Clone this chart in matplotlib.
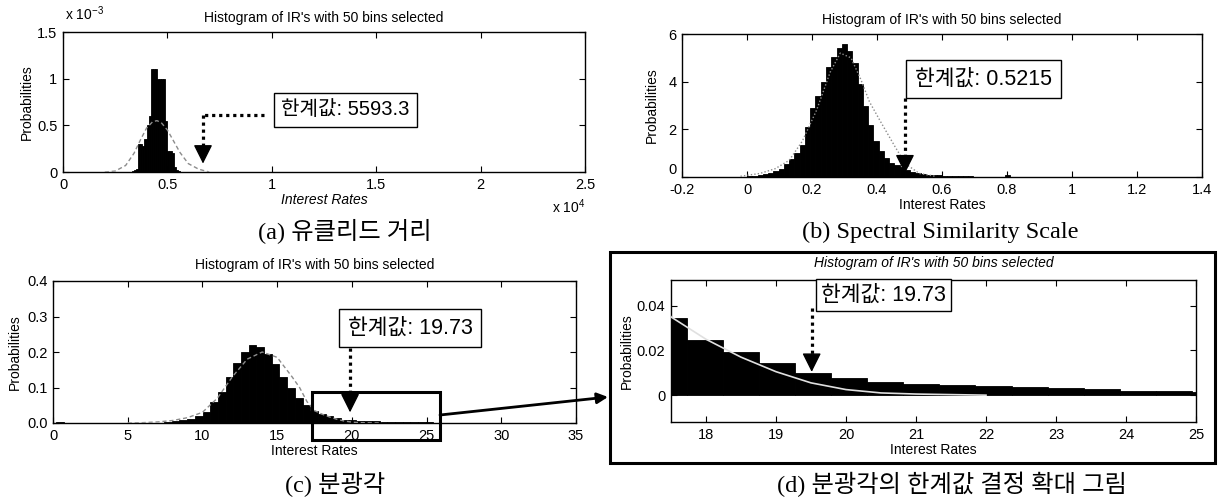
import matplotlib.pyplot as plt
import numpy as np
from matplotlib.patches import Rectangle, FancyArrowPatch

plt.rcParams['font.family'] = ['Liberation Sans', 'Noto Sans CJK KR']
plt.rcParams['mathtext.fontset'] = 'custom'
plt.rcParams['mathtext.rm'] = 'Liberation Sans'
plt.rcParams['axes.linewidth'] = 1.0

TITLE = "Histogram of IR's with 50 bins selected"

# (a) euclidean distance, heights in units of 1e-3
a_range = (3300, 8300)
a_heights = [0.01, 0.02, 0.03, 0.30, 0.30, 0.28, 0.35, 0.50, 0.60, 1.10,
             1.10, 1.10, 1.00, 1.00, 1.00, 1.00, 0.55, 0.22, 0.22, 0.20,
             0.05, 0.02, 0.01, 0.0, 0.0, 0.0, 0.0, 0.0, 0.0, 0.0,
             0.0, 0.0, 0.0, 0.0, 0.0, 0.0, 0.0, 0.0, 0.0, 0.0,
             0.0, 0.0, 0.0, 0.0, 0.0, 0.0, 0.0, 0.0, 0.0, 0.0]
a_curve_x = [2000, 2500, 3000, 3400, 3700, 4000, 4300, 4500, 4700, 5000, 5300, 5600, 6000, 6500, 7000]
a_curve_y = [0.0, 0.01, 0.07, 0.2, 0.34, 0.47, 0.54, 0.55, 0.53, 0.45, 0.33, 0.21, 0.09, 0.03, 0.0]
a_xticks = [0, 5000, 10000, 15000, 20000, 25000]
a_xticklabels = ['0', '0.5', '1', '1.5', '2', '2.5']
a_yticks = [0, 0.5e-3, 1e-3, 1.5e-3]
a_yticklabels = ['0', '0.5', '1', '1.5']
a_label = '한계값: 5593.3'

# (b) spectral similarity scale
b_range = (0.0, 0.81)
b_heights = [0.05, 0.05, 0.08, 0.12, 0.18, 0.25, 0.35, 0.55, 0.75, 1.0,
             1.35, 2.1, 2.9, 3.4, 4.0, 4.6, 5.05, 5.4, 5.6, 5.3,
             4.8, 3.9, 3.0, 2.2, 1.5, 1.1, 0.8, 0.6, 0.5, 0.4,
             0.3, 0.22, 0.17, 0.13, 0.1, 0.08, 0.07, 0.06, 0.05, 0.04,
             0.04, 0.03, 0.03, 0.02, 0.02, 0.02, 0.02, 0.02, 0.02, 0.1]
b_curve_x = [-0.02, 0.04, 0.087, 0.13, 0.17, 0.214, 0.256, 0.287, 0.32, 0.35, 0.377, 0.414, 0.456, 0.487, 0.53, 0.58]
b_curve_y = [0.03, 0.15, 0.35, 0.7, 1.5, 2.8, 4.4, 5.2, 5.0, 4.1, 3.15, 2.25, 1.26, 0.56, 0.15, 0.03]
b_xticks = [-0.2, 0, 0.2, 0.4, 0.6, 0.8, 1, 1.2, 1.4]
b_xticklabels = ['-0.2', '0', '0.2', '0.4', '0.6', '0.8', '1', '1.2', '1.4']
b_yticks = [0, 2, 4, 6]
b_label = '한계값: 0.5215'

# (c) spectral angle, (d) is a zoom of the same histogram
c_range = (0.22, 25.97)
c_heights = [0.002, 0.001, 0.001, 0.001, 0.001, 0.001, 0.001, 0.001, 0.001, 0.001,
             0.001, 0.001, 0.001, 0.001, 0.003, 0.005, 0.008, 0.012, 0.02, 0.03,
             0.06, 0.087, 0.13, 0.17, 0.2, 0.22, 0.215, 0.195, 0.165, 0.13,
             0.1, 0.07, 0.05, 0.0346, 0.0246, 0.0192, 0.0143, 0.0097, 0.0077, 0.0057,
             0.005, 0.0045, 0.004, 0.0037, 0.0033, 0.0027, 0.002, 0.0018, 0.0015, 0.001]
c_curve_x = [5, 6, 7, 8, 9, 10, 11, 12, 13, 14, 15, 16, 16.5, 17, 17.5, 18, 18.5, 19, 19.5, 20, 20.5, 21, 22]
c_curve_y = [0.0, 0.001, 0.003, 0.007, 0.015, 0.03, 0.07, 0.13, 0.18, 0.2, 0.185, 0.13, 0.1, 0.06,
             0.035, 0.025, 0.017, 0.0105, 0.0055, 0.0025, 0.001, 0.0005, 0.0]
c_xticks = [0, 5, 10, 15, 20, 25, 30, 35]
c_yticks = [0, 0.1, 0.2, 0.3, 0.4]
c_label = '한계값: 19.73'
d_xticks = [18, 19, 20, 21, 22, 23, 24, 25]
d_yticks = [0, 0.02, 0.04]

captions = ['(a) 유클리드 거리', '(b) Spectral Similarity Scale', '(c) 분광각', '(d) 분광각의 한계값 결정 확대 그림']

W, H = 1220, 499


def px_axes(fig, l, t, r, b):
    return fig.add_axes([l / W, 1 - b / H, (r - l) / W, (b - t) / H])


def hist_panel(ax, rng, heights, cx, cy, scale=1.0, ccol='0.55', cls=(0, (3, 2)), clw=1.0):
    edges = np.linspace(rng[0], rng[1], len(heights) + 1)
    ax.bar(edges[:-1], np.array(heights) * scale, width=np.diff(edges), align='edge',
           color='black', edgecolor='black', linewidth=0.6, zorder=2)
    ax.plot(cx, np.array(cy) * scale, color=ccol, ls=cls, lw=clw, zorder=3)


def style(ax, title, ty, title_style='normal'):
    ax.tick_params(direction='in', length=4, top=True, right=True, labelsize=10.5, pad=4)
    ax.text(0.5, ty, title, transform=ax.transAxes, ha='center', va='center',
            fontsize=10, style=title_style)


def box(ax, x, y, text, fs=14.5, pad=0.35):
    ax.text(x, y, text, transform=ax.transAxes, ha='center', va='center', fontsize=fs, zorder=6,
            bbox=dict(boxstyle='square,pad=%g' % pad, fc='white', ec='black', lw=1))


def dotted_arrow(ax, x, y_top, y_base, y_tip, ms=13):
    ax.plot([x, x], [y_top, y_base], color='black', ls=(0, (1, 1.2)), lw=2.3, zorder=5)
    ax.annotate('', xy=(x, y_tip), xytext=(x, y_base),
                arrowprops=dict(arrowstyle='-|>,head_length=0.9,head_width=0.45', color='black',
                                lw=1, shrinkA=0, shrinkB=0, mutation_scale=ms), zorder=5)


fig = plt.figure(figsize=(W / 100, H / 100), dpi=100)

# (a)
ax = px_axes(fig, 63, 32, 585, 172)
hist_panel(ax, a_range, a_heights, a_curve_x, a_curve_y, scale=1e-3)
ax.set_xlim(0, 25000)
ax.set_ylim(0, 1.5e-3)
ax.set_xticks(a_xticks, a_xticklabels)
ax.set_yticks(a_yticks, a_yticklabels)
style(ax, TITLE, 1.1)
ax.set_xlabel('Interest Rates', fontsize=10, style='italic')
ax.xaxis.set_label_coords(0.5, -0.15)
ax.set_ylabel('Probabilities', fontsize=10)
ax.yaxis.set_label_coords(-0.055, 0.5)
ax.text(0.004, 1.13, r'x 10$^{-3}$', transform=ax.transAxes, ha='left', va='center', fontsize=10)
ax.text(1.0, -0.25, r'x 10$^{4}$', transform=ax.transAxes, ha='right', va='center', fontsize=10)
box(ax, 0.541, 0.443, a_label, fs=14.5)
ax.plot([9626, 6705], [0.61e-3, 0.61e-3], color='black', ls=(0, (1, 1.2)), lw=2.3, zorder=5)
dotted_arrow(ax, 6705, 0.61e-3, 0.27e-3, 0.09e-3)

# (b)
ax = px_axes(fig, 682, 34, 1202, 177)
hist_panel(ax, b_range, b_heights, b_curve_x, b_curve_y, cls=(0, (1, 1.5)))
ax.set_xlim(-0.2, 1.4)
ax.set_ylim(0, 6)
ax.set_xticks(b_xticks, b_xticklabels)
ax.set_yticks(b_yticks)
style(ax, TITLE, 1.098)
ax.yaxis.get_majorticklabels()[0].set_verticalalignment('bottom')
ax.set_xlabel('Interest Rates', fontsize=10)
ax.xaxis.set_label_coords(0.5, -0.15)
ax.set_ylabel('Probabilities', fontsize=10)
ax.yaxis.set_label_coords(-0.045, 0.5)
box(ax, 0.58, 0.685, b_label, fs=15.5, pad=0.4)
dotted_arrow(ax, 0.486, 3.3, 0.72, 0.15)

# (c)
ax = px_axes(fig, 53, 281, 576, 423)
hist_panel(ax, c_range, c_heights, c_curve_x, c_curve_y)
ax.set_xlim(0, 35)
ax.set_ylim(0, 0.4)
ax.set_xticks(c_xticks)
ax.set_yticks(c_yticks)
style(ax, TITLE, 1.113)
ax.set_xlabel('Interest Rates', fontsize=10)
ax.xaxis.set_label_coords(0.5, -0.15)
ax.set_ylabel('Probabilities', fontsize=10)
ax.yaxis.set_label_coords(-0.06, 0.5)
box(ax, 0.683, 0.669, c_label, fs=15.5, pad=0.4)
dotted_arrow(ax, 19.88, 0.21, 0.06, 0.03)
ax.add_patch(Rectangle((17.3, -0.048), 8.6, 0.135, fill=False, lw=2.2, ec='black',
                       clip_on=False, zorder=7))

# (d)
ax = px_axes(fig, 671, 280, 1196, 422)
hist_panel(ax, c_range, c_heights, c_curve_x, c_curve_y, ccol='0.88', cls='-', clw=1.2)
ax.set_xlim(17.5, 25)
ax.set_ylim(-0.012, 0.0515)
ax.set_xticks(d_xticks)
ax.set_yticks(d_yticks, ['0', '0.02', '0.04'])
style(ax, TITLE, 1.12, title_style='italic')
ax.set_xlabel('Interest Rates', fontsize=10)
ax.xaxis.set_label_coords(0.5, -0.15)
ax.set_ylabel('Probabilities', fontsize=10)
ax.yaxis.set_label_coords(-0.07, 0.5)
box(ax, 0.405, 0.895, c_label, fs=15.5, pad=0.25)
dotted_arrow(ax, 19.51, 0.039, 0.018, 0.0104)

# zoom frame and connecting arrow
fig.add_artist(Rectangle((610 / W, 1 - 463 / H), (1215 - 610) / W, (463 - 252) / H,
                         transform=fig.transFigure, fill=False, lw=2.2, ec='black'))
fig.add_artist(FancyArrowPatch((440 / W, 1 - 415 / H), (608 / W, 1 - 397 / H),
                               transform=fig.transFigure, arrowstyle='-|>', mutation_scale=16,
                               lw=2, color='black', shrinkA=0, shrinkB=0))

# captions
cap_font = ['Liberation Serif', 'Noto Sans CJK KR']
cap_pos = [(345, 232), (940, 232), (335, 484), (952, 484)]
for (cx, cy), cap in zip(cap_pos, captions):
    fig.text(cx / W, 1 - cy / H, cap, ha='center', va='center', fontsize=17.5, family=cap_font)

fig.savefig('out.png', dpi=100)
